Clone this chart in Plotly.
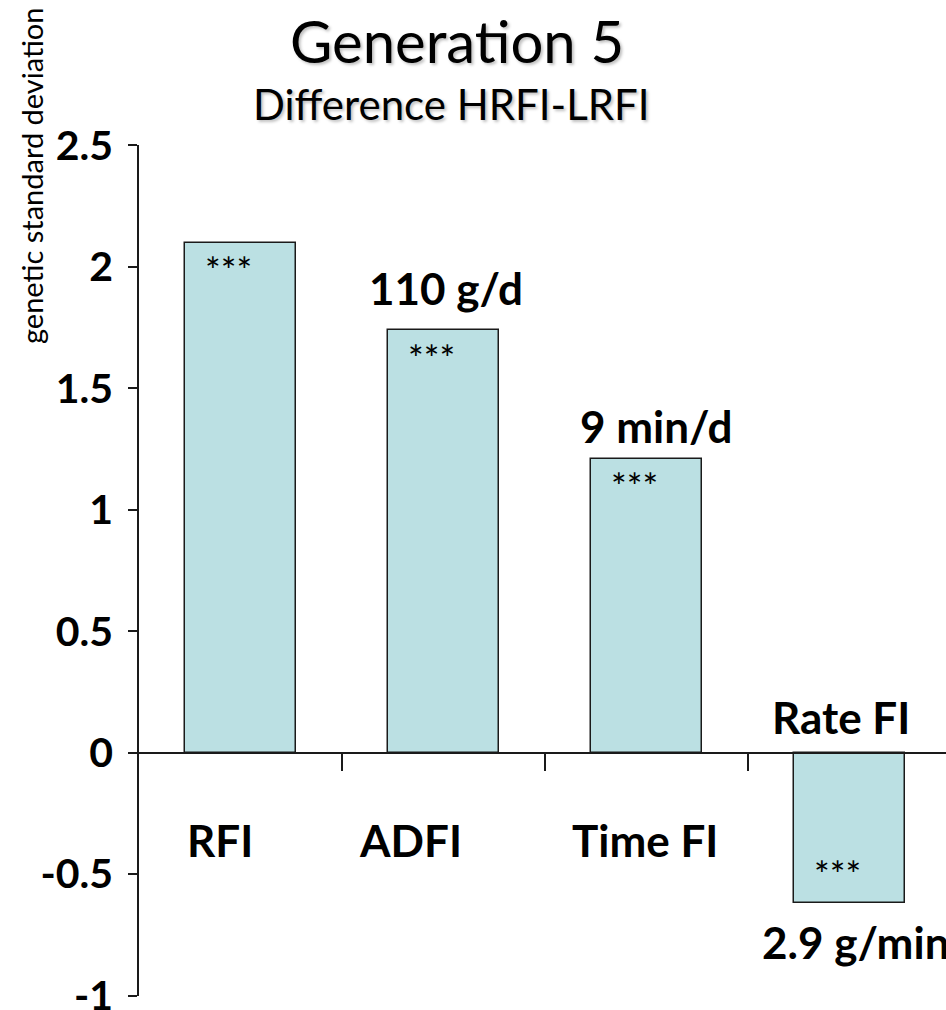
import plotly.graph_objects as go

# ---- data ----
categories = ["RFI", "ADFI", "Time FI", "Rate FI"]
values = [2.1, 1.74, 1.21, -0.62]
effect_labels = ["", "110 g/d", "9 min/d", "2.9 g/min"]
significance = ["***", "***", "***", "***"]
y_tick_vals = [2.5, 2, 1.5, 1, 0.5, 0, -0.5, -1]
y_tick_text = ["2.5", "2", "1.5", "1", "0.5", "0", "-0.5", "-1"]
title_text = "Generation 5"
subtitle_text = "Difference HRFI-LRFI"
y_title = "genetic standard deviation"

# ---- style ----
FONT = "Lato"
BAR_FILL = "#BBE0E3"
EDGE = "#1a1a1a"
W, H = 946, 1010
ML, MT, MB = 139, 145, 14
cat_step_px = 203
plot_w = W - ML
plot_h = H - MT - MB
x_span = plot_w / cat_step_px
x_range = [-0.5, -0.5 + x_span]
y_range = [-1.0, 2.5]
pad = 0.002
y_range_draw = [y_range[0] - pad, y_range[1] + pad]


def px_x(x):
    return (x - ML) / plot_w


def px_y(y):
    return (H - MB - y) / plot_h


# label offsets (px) for category names and effect labels
cat_xshift = [-21, -33, -2, -9]
effect_xshift = [0, 2, 9, -90]
effect_yshift = [0, 42, 33, -39]
effect_anchor = ["center", "center", "center", "left"]

fig = go.Figure()
fig.add_trace(go.Bar(
    x=list(range(len(categories))), y=values, width=0.55,
    marker=dict(color=BAR_FILL, line=dict(color=EDGE, width=1.5)),
    hoverinfo="skip", showlegend=False,
))

ann = []
bold = dict(family=FONT, size=44, color="black", weight="bold")
for i, (c, v) in enumerate(zip(categories, values)):
    ann.append(dict(x=i, y=0, xref="x", yref="y", text=c, showarrow=False,
                    xshift=cat_xshift[i], yshift=(-87 if v >= 0 else 36),
                    font=bold, xanchor="center", yanchor="middle"))
    ann.append(dict(x=i, y=v, xref="x", yref="y", text=significance[i], showarrow=False,
                    xshift=-12, yshift=(-27 if v >= 0 else 30),
                    font=dict(family=FONT, size=37, color="black"),
                    xanchor="center", yanchor="middle"))
    if effect_labels[i]:
        ann.append(dict(x=i, y=v, xref="x", yref="y", text=effect_labels[i], showarrow=False,
                        xshift=effect_xshift[i], yshift=effect_yshift[i],
                        font=bold, xanchor=effect_anchor[i], yanchor="middle"))

shadow = "2px 2px 3px rgba(0,0,0,0.25)"
ann.append(dict(x=px_x(457), y=px_y(40), xref="paper", yref="paper", text=title_text,
                showarrow=False, xanchor="center", yanchor="middle",
                font=dict(family=FONT, size=58, color="black", shadow=shadow)))
ann.append(dict(x=px_x(451), y=px_y(104), xref="paper", yref="paper", text=subtitle_text,
                showarrow=False, xanchor="center", yanchor="middle",
                font=dict(family=FONT, size=42, color="black", shadow=shadow)))
ann.append(dict(x=px_x(31), y=px_y(176), xref="paper", yref="paper", text=y_title,
                showarrow=False, textangle=-90, xanchor="center", yanchor="middle",
                font=dict(family=FONT, size=29, color="black")))

fig.update_layout(
    width=W, height=H,
    margin=dict(l=ML, r=0, t=MT, b=MB, pad=0, autoexpand=False),
    paper_bgcolor="white", plot_bgcolor="white",
    font=dict(family=FONT, color="black"),
    annotations=ann,
    bargap=0,
)
fig.update_xaxes(
    range=x_range, showgrid=False, zeroline=False, showticklabels=False,
    showline=True, linecolor=EDGE, linewidth=1.5,
    tickmode="array", tickvals=[0.5, 1.5, 2.5], ticks="outside", ticklen=18,
    tickwidth=1.5, tickcolor=EDGE,
    anchor="free", automargin=False,
    position=(0 - y_range_draw[0]) / (y_range_draw[1] - y_range_draw[0]),
)
fig.update_yaxes(
    range=y_range_draw, showgrid=False, zeroline=False,
    showline=True, linecolor=EDGE, linewidth=1.5,
    tickmode="array", tickvals=y_tick_vals, ticktext=y_tick_text,
    ticks="outside", ticklen=9, tickwidth=1.5, tickcolor=EDGE,
    tickfont=dict(family=FONT, size=41, color="black", weight="bold"),
    ticklabelstandoff=7, ticklabeloverflow="allow", automargin=False,
)

fig.write_html("out.html")
